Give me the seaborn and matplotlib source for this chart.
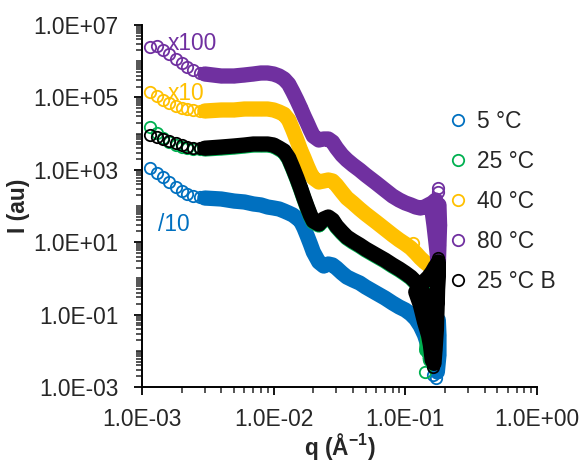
import matplotlib
matplotlib.use("Agg")
import matplotlib.pyplot as plt
import seaborn as sns
from matplotlib.lines import Line2D
from matplotlib.ticker import FixedLocator, FuncFormatter, NullFormatter

# ---------------------------------------------------------------- data
# q grid (1/Angstrom): sparse low-q points and the dense band region
q_low = [1.15e-3, 1.3e-3, 1.45e-3, 1.6e-3, 1.8e-3, 2.0e-3, 2.2e-3, 2.45e-3, 2.75e-3]
q_band = [3e-3, 4e-3, 5e-3, 6e-3, 7e-3, 8e-3, 9e-3, 1.0e-2, 1.1e-2, 1.2e-2,
          1.3e-2, 1.4e-2, 1.5e-2, 1.6e-2, 1.7e-2, 1.8e-2, 1.9e-2, 2.0e-2, 2.2e-2, 2.4e-2,
          2.6e-2, 2.8e-2, 3.0e-2, 3.3e-2, 3.6e-2, 4.0e-2, 4.5e-2, 5.0e-2, 6.0e-2, 7.0e-2,
          8.0e-2, 9.0e-2, 0.10, 0.11, 0.12, 0.13, 0.14, 0.15, 0.16, 0.17]

# 5 °C (divided by 10)
i_low_5 = [1.12e3, 8.16e2, 6.33e2, 4.60e2, 3.35e2, 2.60e2, 2.15e2, 1.89e2, 1.77e2]
i_band_5 = [1.66e2, 1.56e2, 1.37e2, 1.29e2, 1.14e2, 1.07e2, 9.38e1, 8.81e1, 8.26e1, 7.28e1,
            6.41e1, 5.64e1, 4.66e1, 3.85e1, 2.47e1, 1.48e1, 8.92, 5.36, 2.84, 2.20,
            2.50, 2.35, 1.94, 1.41, 1.09, 0.903, 0.746, 0.578, 0.395, 0.287,
            0.209, 0.162, 0.134, 0.104, 7.56e-2, 4.84e-2, 2.73e-2, 1.27e-2, 5.57e-3, 3.35e-3]
q_tail_5 = [0.175, 0.18, 0.18, 0.178]
i_tail_5 = [2.60e-3, 7.66e-3, 2.73e-2, 7.09e-2]
q_stray_5 = [0.163, 0.172]
i_stray_5 = [2.15e-3, 1.77e-3]

# 25 °C
i_low_25 = [1.52e4, 1.04e4, 7.56e3, 5.86e3, 4.84e3, 4.26e3, 4.00e3, 3.76e3, 3.76e3]
i_band_25 = [3.76e3, 4.00e3, 4.26e3, 4.55e3, 4.84e3, 4.84e3, 4.84e3, 4.55e3, 3.76e3, 3.10e3,
             1.99e3, 1.05e3, 5.57e2, 2.95e2, 1.56e2, 8.81e1, 5.29e1, 3.61e1, 2.99e1, 4.10e1,
             4.66e1, 3.85e1, 2.63e1, 1.79e1, 1.31e1, 1.01e1, 7.85, 6.09, 4.16, 3.02,
             2.20, 1.71, 1.32, 1.03, 0.746, 0.509, 0.326, 0.196, 0.126, 7.56e-2]
q_tail_25 = [0.175, 0.17, 0.165, 0.16, 0.155, 0.15, 0.145]
i_tail_25 = [0.903, 0.253, 7.09e-2, 1.45e-2, 5.57e-3, 3.76e-2, 1.05e-2]
q_stray_25 = [0.142]
i_stray_25 = [2.60e-3]

# 40 °C (multiplied by 10)
i_low_40 = [1.41e5, 1.09e5, 8.48e4, 7.00e4, 5.79e4, 5.10e4, 4.78e4, 4.49e4, 4.21e4]
i_band_40 = [4.21e4, 4.49e4, 4.49e4, 4.78e4, 4.78e4, 4.78e4, 4.78e4, 4.49e4, 3.95e4, 3.40e4,
             2.38e4, 1.26e4, 6.66e3, 3.52e3, 2.12e3, 1.27e3, 8.16e2, 5.94e2, 4.60e2, 4.91e2,
             5.23e2, 4.91e2, 3.80e2, 2.44e2, 1.66e2, 1.21e2, 8.26e1, 6.01e1, 3.61e1, 2.32e1,
             1.58e1, 1.15e1, 8.92, 6.92, 5.03, 3.66, 2.84, 2.35, 1.94, 1.71]
q_tail_40 = [0.175, 0.17]
i_tail_40 = [1.2, 2.6]
q_stray_40 = [0.115]
i_stray_40 = [9.51]

# 80 °C (multiplied by 100)
i_low_80 = [2.47e6, 2.63e6, 2.04e6, 1.58e6, 1.15e6, 8.92e5, 6.92e5, 5.71e5, 4.72e5]
i_band_80 = [4.43e5, 3.90e5, 3.90e5, 4.16e5, 4.43e5, 4.72e5, 4.72e5, 4.43e5, 3.90e5, 3.22e5,
             2.34e5, 1.41e5, 8.48e4, 5.10e4, 3.06e4, 1.96e4, 1.26e4, 8.58e3, 6.66e3, 7.10e3,
             7.10e3, 5.86e3, 4.00e3, 2.56e3, 1.87e3, 1.36e3, 9.87e2, 7.18e2, 4.32e2, 2.77e2,
             1.89e2, 1.46e2, 1.21e2, 1.07e2, 9.38e1, 8.81e1, 9.38e1, 1.07e2, 1.21e2, 1.46e2]
q_tail_80 = [0.16, 0.165, 0.17, 0.175, 0.178, 0.18, 0.182, 0.18]
i_tail_80 = [6.83e1, 2.99e1, 1.15e1, 4.43, 2.35, 8.37, 2.99e1, 1.07e2]
q_stray_80 = [0.178, 0.178]
i_stray_80 = [3.14e2, 2.44e2]

# 25 °C B
i_low_25b = [9.15e3, 8.05e3, 7.10e3, 6.25e3, 5.50e3, 4.84e3, 4.26e3, 4.00e3, 3.95e3]
i_band_25b = [3.95e3, 4.26e3, 4.55e3, 4.84e3, 5.16e3, 5.16e3, 5.16e3, 4.84e3, 4.00e3, 3.31e3,
              2.12e3, 1.12e3, 5.94e2, 3.14e2, 1.66e2, 9.38e1, 5.64e1, 3.85e1, 3.18e1, 4.38e1,
              4.97e1, 4.10e1, 2.80e1, 1.91e1, 1.39e1, 1.08e1, 8.37, 6.49, 4.43, 3.22,
              2.35, 1.82, 1.41, 1.09, 0.796, 0.543, 0.348, 0.209, 0.134, 8.05e-2]
q_tail_25b = [0.175, 0.178, 0.175, 0.172, 0.168, 0.165, 0.16, 0.155, 0.15, 0.14,
              0.13, 0.12, 0.13, 0.14, 0.15, 0.16, 0.17]
i_tail_25b = [0.478, 2.84, 0.253, 3.76e-2, 1.05e-2, 4.5e-3, 5.57e-3, 1.45e-2, 2.73e-2, 6.25e-2,
              0.184, 0.421, 0.657, 0.848, 1.09, 1.50, 2.20]
q_stray_25b = [0.178, 0.163]
i_stray_25b = [3.66, 3.57e-3]

labels = ["5 °C", "25 °C", "40 °C", "80 °C", "25 °C B"]
colors = ["#0070C0", "#00B050", "#FFC000", "#7030A0", "#000000"]

series = [
    (q_low + q_stray_5, i_low_5 + i_stray_5, q_band + q_tail_5, i_band_5 + i_tail_5),
    (q_low + q_stray_25, i_low_25 + i_stray_25, q_band + q_tail_25, i_band_25 + i_tail_25),
    (q_low + q_stray_40, i_low_40 + i_stray_40, q_band + q_tail_40, i_band_40 + i_tail_40),
    (q_low + q_stray_80, i_low_80 + i_stray_80, q_band + q_tail_80, i_band_80 + i_tail_80),
    (q_low + q_stray_25b, i_low_25b + i_stray_25b, q_band + q_tail_25b, i_band_25b + i_tail_25b),
]

# ---------------------------------------------------------------- style
sns.set_theme(style="ticks")
plt.rcParams["font.family"] = ["Liberation Sans", "DejaVu Sans"]
plt.rcParams["mathtext.fontset"] = "custom"
plt.rcParams["mathtext.rm"] = "Liberation Sans"
plt.rcParams["mathtext.bf"] = "Liberation Sans:bold"

FS = 16.4
MS = 8.2
MEW = 1.3
BAND_LW = 11

fig = plt.figure(figsize=(5.86, 4.65), dpi=100)
ax = fig.add_axes([142 / 586, 1 - 387 / 465, 395 / 586, 362 / 465])
ax.set_xscale("log")
ax.set_yscale("log")

for (qp, ip, qb, ib), col in zip(series, colors):
    # dense, overlapping measurements drawn as a thick band
    sns.lineplot(x=qb, y=ib, ax=ax, color=col, lw=BAND_LW, estimator=None, sort=False,
                 solid_capstyle="round", solid_joinstyle="round", legend=False)
    sns.lineplot(x=qb + qp, y=ib + ip, ax=ax, color=col, estimator=None, sort=False,
                 marker="o", linestyle="", markersize=MS, markerfacecolor="none",
                 markeredgecolor=col, markeredgewidth=MEW, legend=False)

ax.set_xlim(1e-3, 1e0)
ax.set_ylim(1e-3, 1e7)

# ticks
sci = FuncFormatter(lambda v, p: f"{v:.1E}")
ax.xaxis.set_major_locator(FixedLocator([1e-3, 1e-2, 1e-1, 1e0]))
ax.xaxis.set_minor_locator(FixedLocator([k * 10.0 ** n for n in range(-3, 0) for k in range(2, 10)]))
ax.yaxis.set_major_locator(FixedLocator([1e-3, 1e-1, 1e1, 1e3, 1e5, 1e7]))
ax.yaxis.set_minor_locator(FixedLocator(
    [k * 10.0 ** n for n in range(-3, 7) for k in range(1, 10) if not (k == 1 and n % 2 == 1)]
))
ax.xaxis.set_major_formatter(sci)
ax.yaxis.set_major_formatter(sci)
ax.xaxis.set_minor_formatter(NullFormatter())
ax.yaxis.set_minor_formatter(NullFormatter())
ax.tick_params(axis="both", which="major", direction="out", length=6, width=1.3,
               labelsize=FS, colors="black")
ax.tick_params(axis="both", which="minor", direction="out", length=4, width=1.1)
ax.tick_params(axis="y", which="major", pad=11)
ax.tick_params(axis="x", which="major", pad=9)
for tl in ax.get_xticklabels() + ax.get_yticklabels():
    tl.set_color("#262626")

sns.despine(ax=ax)
for side in ("left", "bottom"):
    ax.spines[side].set_linewidth(1.4)
    ax.spines[side].set_color("black")

ax.set_xlabel(r"q (Å$^{\mathbf{-1}}$)", fontsize=FS, fontweight="bold", labelpad=0)
ax.set_ylabel("I (au)", fontsize=FS, fontweight="bold", labelpad=2)

# scale factors applied to the curves
ax.text(1.58e-3, 3.08e6, "x100", color=colors[3], fontsize=FS, va="center", ha="left")
ax.text(1.58e-3, 1.32e5, "x10", color=colors[2], fontsize=FS, va="center", ha="left")
ax.text(1.32e-3, 31.8, "/10", color=colors[0], fontsize=FS, va="center", ha="left")

handles = [Line2D([], [], marker="o", linestyle="none", markersize=MS, markerfacecolor="none",
                  markeredgecolor=c, markeredgewidth=MEW) for c in colors]
leg = ax.legend(handles, labels, loc="upper left", bbox_to_anchor=(449 / 586, 1 - 110 / 465),
                bbox_transform=fig.transFigure, frameon=False, fontsize=FS,
                handlelength=0.8, handletextpad=0.44, labelspacing=0.75,
                borderpad=0, borderaxespad=0)
for t in leg.get_texts():
    t.set_color("#262626")

fig.savefig("out.png", dpi=100)
